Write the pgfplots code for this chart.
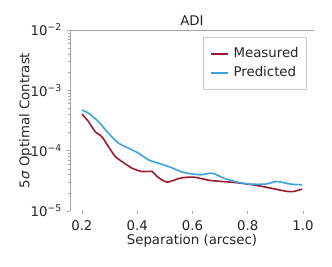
\documentclass[border=0pt]{standalone}
\usepackage{fontspec}
\setmainfont{DejaVu Sans}
\usepackage{pgfplots}
\pgfplotsset{compat=1.18}
\definecolor{meas}{RGB}{155,27,48}
\definecolor{pred}{RGB}{59,163,224}
\begin{document}
\begin{tikzpicture}
\begin{axis}[
  scale only axis,
  width=183pt, height=135.75pt,
  ymode=log,
  xmin=0.157, xmax=1.04,
  ymin=1e-5, ymax=1e-2,
  xtick={0.2,0.4,0.6,0.8,1.0},
  xticklabels={0.2,0.4,0.6,0.8,1.0},
  ytick={1e-5,1e-4,1e-3,1e-2},
  yticklabels={10\textsuperscript{−5},10\textsuperscript{−4},10\textsuperscript{−3},10\textsuperscript{−2}},
  minor ytick={2e-5,3e-5,4e-5,5e-5,6e-5,7e-5,8e-5,9e-5,2e-4,3e-4,4e-4,5e-4,6e-4,7e-4,8e-4,9e-4,2e-3,3e-3,4e-3,5e-3,6e-3,7e-3,8e-3,9e-3},
  tick align=outside,
  major tick length=2.5pt,
  minor tick length=1.2pt,
  every tick/.style={gray!70},
  xtick pos=bottom, ytick pos=left,
  axis line style={draw=none},
  tick label style={font=\fontsize{10}{12}\selectfont, text=black!85},
  xticklabel style={yshift=-1pt},
  xlabel={Separation (arcsec)},
  ylabel={5\textit{σ} Optimal Contrast},
  label style={font=\fontsize{10}{12}\selectfont, text=black!85},
  xlabel style={yshift=4pt},
  ylabel style={yshift=-8pt},
  title={ADI},
  title style={font=\fontsize{10}{12}\selectfont, text=black!85, yshift=-6pt},
  legend style={at={(0.546,0.96)}, anchor=north west, draw=gray!40,
    font=\fontsize{10}{12}\selectfont, text=black!85,
    inner xsep=5pt, inner ysep=6.5pt, row sep=2.75pt,
    nodes={inner sep=1pt, text height=7.5pt, text depth=2pt},
    /tikz/every odd column/.append style={column sep=2.75pt}},
  legend cell align=left,
  legend image code/.code={\draw[#1, line width=1pt] (0cm,0cm) -- (0.45cm,0cm);},
]
\draw[gray!70, line width=0.6pt] (rel axis cs:0,0) -- (rel axis cs:0,1) -- (rel axis cs:1,1) -- (rel axis cs:1,0);
\addplot[meas, line width=1.2pt, smooth, tension=0.4] coordinates {
(0.200,4.06e-4) (0.224,3.03e-4) (0.248,2.07e-4) (0.272,1.71e-4) (0.296,1.17e-4)
(0.321,7.98e-5) (0.345,6.61e-5) (0.381,5.14e-5) (0.417,4.52e-5) (0.454,4.52e-5)
(0.472,3.73e-5) (0.508,3.01e-5) (0.556,3.51e-5) (0.604,3.65e-5) (0.665,3.21e-5)
(0.737,3.01e-5) (0.774,2.90e-5) (0.834,2.65e-5) (0.882,2.40e-5) (0.943,2.11e-5)
(0.967,2.11e-5) (0.997,2.31e-5)
};
\addlegendentry{Measured}
\addplot[pred, line width=1.2pt, smooth, tension=0.4] coordinates {
(0.200,4.72e-4) (0.224,4.17e-4) (0.260,3.03e-4) (0.296,1.95e-4) (0.333,1.33e-4)
(0.369,1.10e-4) (0.405,9.09e-5) (0.441,7.05e-5) (0.484,6.05e-5) (0.520,5.33e-5)
(0.568,4.35e-5) (0.629,3.98e-5) (0.671,4.25e-5) (0.713,3.51e-5) (0.762,3.01e-5)
(0.810,2.79e-5) (0.864,2.79e-5) (0.907,3.08e-5) (0.955,2.79e-5) (0.997,2.72e-5)
};
\addlegendentry{Predicted}
\end{axis}
\pgfresetboundingbox
\path ([shift={(-52.5pt,-41.25pt)}]current axis.south west) rectangle ([shift={(13.5pt,22.5pt)}]current axis.north east);
\end{tikzpicture}
\end{document}
